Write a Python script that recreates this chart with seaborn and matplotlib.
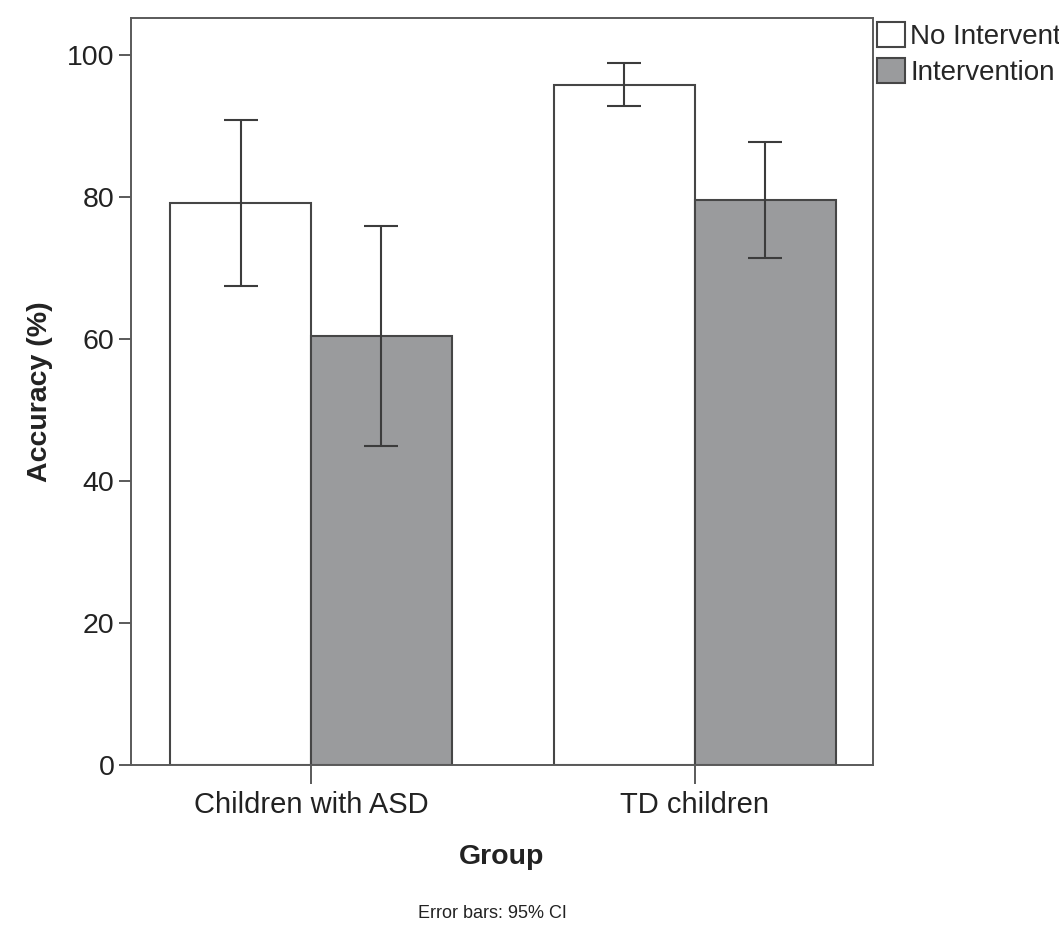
import numpy as np
import pandas as pd
import matplotlib
matplotlib.use('Agg')
import matplotlib.pyplot as plt
import seaborn as sns

# 数据
groups = ['Children with ASD', 'TD children']
conditions = ['No Intervention', 'Intervention']
means_no = [79.2, 95.8]
means_int = [60.4, 79.6]
ci_low_no = [67.4, 92.8]
ci_high_no = [90.8, 98.9]
ci_low_int = [44.9, 71.4]
ci_high_int = [75.9, 87.8]

sns.set_style('white')
plt.rcParams['font.family'] = ['Liberation Sans', 'DejaVu Sans']

df = pd.DataFrame({
    'Group': groups * 2,
    'Condition': [conditions[0]] * 2 + [conditions[1]] * 2,
    'Accuracy': means_no + means_int,
})

fig = plt.figure(figsize=(10.59, 9.41), dpi=100)
ax = fig.add_axes([131 / 1059, 1 - 765 / 941, 742 / 1059, 747 / 941])

edge = '#464646'
sns.barplot(data=df, x='Group', y='Accuracy', hue='Condition', order=groups,
            hue_order=conditions, palette=['white', '#9a9b9d'], width=0.734,
            errorbar=None, edgecolor=edge, linewidth=1.5, saturation=1, ax=ax)

# 95% CI 误差线
lows = [ci_low_no, ci_low_int]
highs = [ci_high_no, ci_high_int]
bar_containers = list(ax.containers)
for k, cont in enumerate(bar_containers):
    xs = [b.get_x() + b.get_width() / 2 for b in cont]
    hs = [b.get_height() for b in cont]
    lo = np.array(hs) - np.array(lows[k])
    hi = np.array(highs[k]) - np.array(hs)
    ax.errorbar(xs, hs, yerr=[lo, hi], fmt='none', ecolor='#3c3c3c',
                elinewidth=1.5, capsize=12.5, capthick=1.5, zorder=5)

ax.set_xlim(-0.469, 1.464)
ax.set_ylim(0, 105.2)
ax.set_yticks([0, 20, 40, 60, 80, 100])

for s in ax.spines.values():
    s.set_color('#5a5a5a')
    s.set_linewidth(1.4)

ax.tick_params(axis='y', left=True, length=9, width=1.4, color='#5a5a5a',
               labelsize=20.5, labelcolor='#222222', pad=3)
ax.tick_params(axis='x', bottom=True, length=14, width=1.4, color='#5a5a5a',
               labelsize=21, labelcolor='#222222', pad=5)

ax.set_xlabel('Group', fontsize=20.5, fontweight='bold', color='#222222', labelpad=18)
ax.set_ylabel('Accuracy (%)', fontsize=20.5, fontweight='bold', color='#222222', labelpad=10)

ax.legend(loc='upper left', bbox_to_anchor=(1.0, 1.0), frameon=False, fontsize=20,
          handlelength=1.0, handleheight=1.0, handletextpad=0.2, labelspacing=0.3,
          borderaxespad=0.0, borderpad=0.15)

fig.text(492 / 1059, 1 - 914 / 941, 'Error bars: 95% CI', fontsize=13,
         color='#222222', ha='center', va='center')

fig.savefig('out.png', dpi=100)
